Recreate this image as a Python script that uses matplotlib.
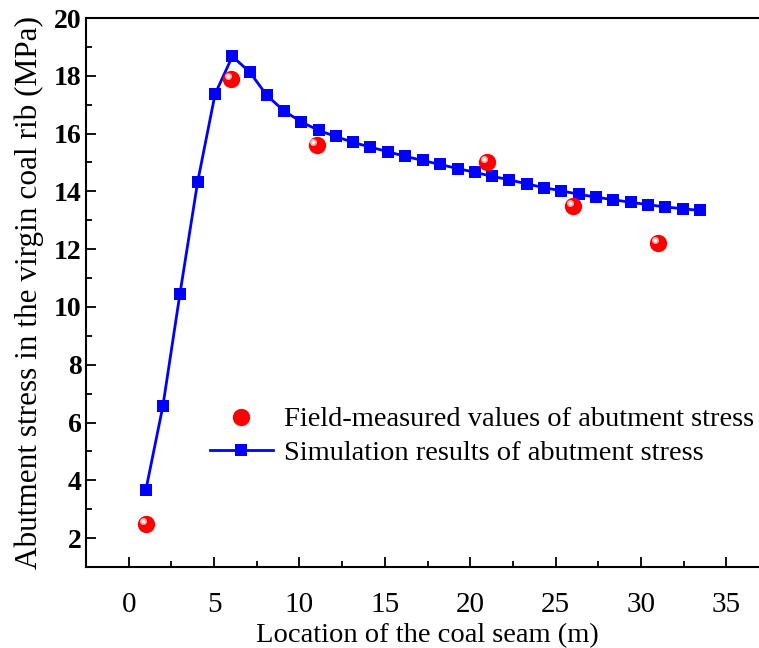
import matplotlib
matplotlib.use("Agg")
import matplotlib.pyplot as plt
import matplotlib.transforms as mtransforms
from matplotlib.ticker import MultipleLocator

plt.rcParams['font.family'] = ['Liberation Serif', 'DejaVu Serif']
plt.rcParams['mathtext.fontset'] = 'stix'

# Simulation results
sim_x = [1.0, 2.0, 3.0, 4.04, 5.06, 6.07, 7.09, 8.08, 9.08, 10.12, 11.13, 12.12,
         13.12, 14.16, 15.20, 16.21, 17.22, 18.24, 19.26, 20.27, 21.29, 22.30,
         23.30, 24.31, 25.33, 26.36, 27.38, 28.39, 29.41, 30.43, 31.42, 32.44, 33.43]
sim_y = [3.65, 6.56, 10.45, 14.33, 17.37, 18.67, 18.13, 17.33, 16.79, 16.40, 16.11, 15.90,
         15.70, 15.53, 15.37, 15.21, 15.07, 14.93, 14.79, 14.66, 14.52, 14.40,
         14.26, 14.13, 14.02, 13.90, 13.80, 13.71, 13.62, 13.54, 13.46, 13.40, 13.34]

# Field-measured values
meas_x = [1, 6, 11, 21, 26, 31]
meas_y = [2.5, 17.9, 15.6, 15.0, 13.5, 12.2]

x_ticks = [0, 5, 10, 15, 20, 25, 30, 35]
y_ticks = [2, 4, 6, 8, 10, 12, 14, 16, 18, 20]

W, H = 759, 648
fig = plt.figure(figsize=(W / 100, H / 100), dpi=100)
ax = fig.add_axes([86 / W, (H - 567) / H, (769 - 86) / W, (567 - 18) / H])

ax.plot(sim_x, sim_y, color='#0000ff', lw=2.0, marker='s', markersize=8.5,
        markeredgewidth=0, label='Simulation results of abutment stress', zorder=3)
ax.plot(meas_x, meas_y, linestyle='none', marker='o', markersize=12.5,
        color='#ff0000', markeredgewidth=0,
        label='Field-measured values of abutment stress', zorder=4)
# specular highlight on the spheres
hl = ax.transData + mtransforms.ScaledTranslation(-2.2 / 72, 2.2 / 72, fig.dpi_scale_trans)
ax.plot(meas_x, meas_y, linestyle='none', marker='o', markersize=5, color='#ffb0b0',
        markeredgewidth=0, transform=hl, zorder=5)
ax.plot(meas_x, meas_y, linestyle='none', marker='o', markersize=2.2, color='white',
        markeredgewidth=0, transform=hl, zorder=6)

ax.set_xlim(-2.5, 37.5)
ax.set_ylim(1, 20)
ax.set_xticks(x_ticks)
ax.set_yticks(y_ticks)
ax.xaxis.set_minor_locator(MultipleLocator(2.5))
ax.yaxis.set_minor_locator(MultipleLocator(1))

for s in ax.spines.values():
    s.set_linewidth(1.5)
ax.spines['right'].set_visible(False)

ax.tick_params(which='major', direction='in', length=7, width=1.3)
ax.tick_params(which='minor', direction='in', length=4, width=1.3)
ax.tick_params(axis='x', which='major', labelsize=21, pad=18)
ax.tick_params(axis='y', which='major', labelsize=20, pad=3)
ax.tick_params(axis='y', which='both', right=False)
ax.tick_params(axis='x', which='both', top=False)
for lab in ax.get_yticklabels():
    lab.set_fontweight('bold')

ax.set_xlabel('Location of the coal seam (m)', fontsize=20.5, labelpad=4)
ax.set_ylabel('Abutment stress in the virgin coal rib (MPa)', fontsize=22.5, labelpad=7)

handles, labels = ax.get_legend_handles_labels()
leg = ax.legend([handles[1], handles[0]], [labels[1], labels[0]],
                loc='center left', bbox_to_anchor=(0.1816, 0.238),
                frameon=False, fontsize=20.5, borderaxespad=0, borderpad=0,
                handlelength=2.2, handletextpad=0.39, labelspacing=0.27)

fig.savefig('out.png', dpi=100)
